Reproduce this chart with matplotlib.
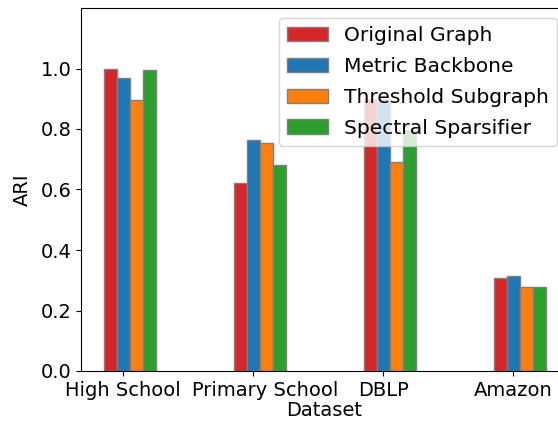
import matplotlib.pyplot as plt
import matplotlib.transforms as mtransforms
import numpy as np

# ARI por dataset y metodo
datasets = ["High School", "Primary School", "DBLP", "Amazon"]
metodos = ["Original Graph", "Metric Backbone", "Threshold Subgraph", "Spectral Sparsifier"]
original = [1.000, 0.623, 0.900, 0.306]
backbone = [0.967, 0.762, 0.900, 0.313]
threshold = [0.897, 0.755, 0.692, 0.279]
spectral = [0.994, 0.681, 0.796, 0.277]
colores = ["tab:red", "tab:blue", "tab:orange", "tab:green"]

series = [original, backbone, threshold, spectral]
x = np.arange(len(datasets))
ancho = 0.1

fig = plt.figure(figsize=(5.58, 4.25), dpi=100)
ax = fig.add_axes([81 / 558, 54 / 425, 487 / 558, 363 / 425])

for i, (valores, nombre, color) in enumerate(zip(series, metodos, colores)):
    ax.bar(x + (i - 1) * ancho, valores, ancho, label=nombre, color=color,
           edgecolor="grey", linewidth=1)

ax.set_xticks(x)
ax.set_xticklabels(datasets, fontsize=14)
# separar un poco la etiqueta larga de la vecina
desplazamiento = mtransforms.ScaledTranslation(0.12, 0, fig.dpi_scale_trans)
etiqueta = ax.get_xticklabels()[1]
etiqueta.set_transform(etiqueta.get_transform() + desplazamiento)

ax.set_yticks(np.arange(0, 1.01, 0.2))
ax.tick_params(axis="y", labelsize=14)
ax.set_ylim(0, 1.2)
ax.set_xlim(-0.325, 3.42)
ax.spines["right"].set_visible(False)
ax.set_ylabel("ARI", fontsize=14, labelpad=6)
fig.text(324.5 / 558, 1 - 411 / 425, "Dataset", fontsize=14, ha="center", va="center")

ax.legend(fontsize=14.6, loc="upper right", labelspacing=0.58,
          bbox_to_anchor=(567 / 558, 1 - 8 / 425), bbox_transform=fig.transFigure)

fig.savefig("out.png", dpi=100)
